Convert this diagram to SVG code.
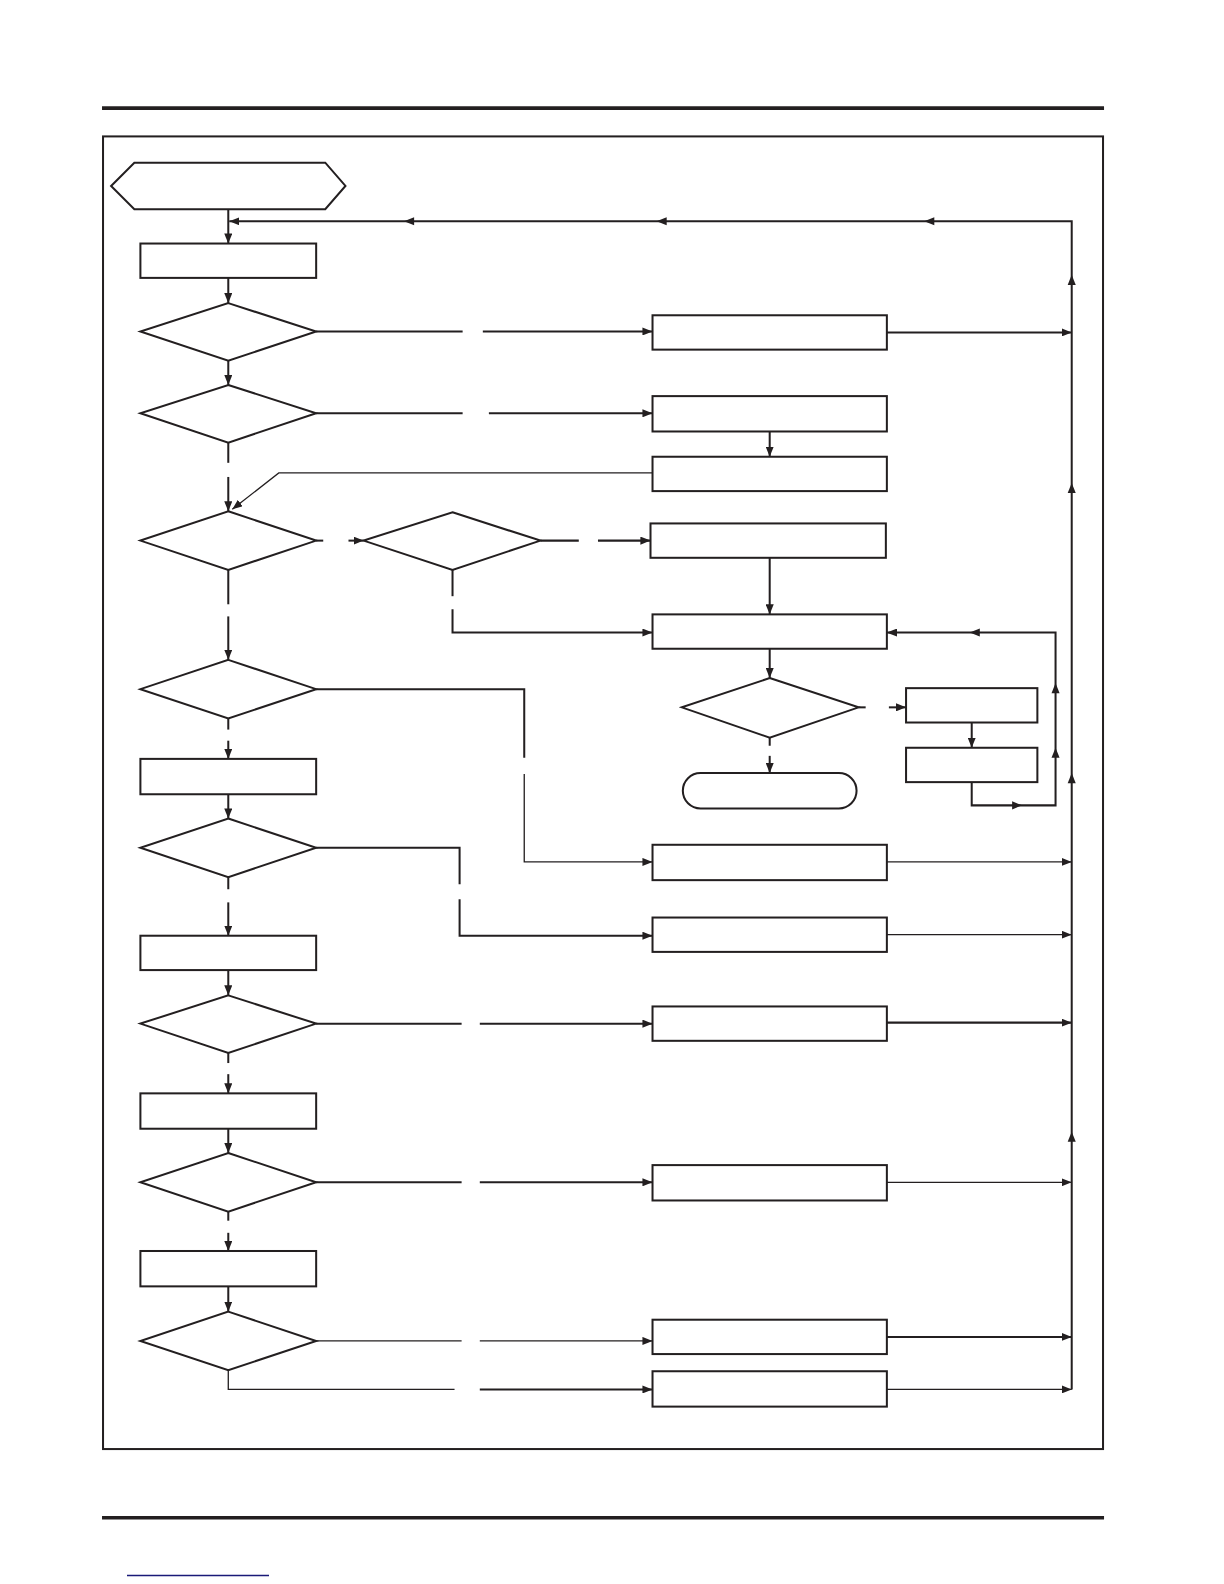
<svg xmlns="http://www.w3.org/2000/svg" width="1224" height="1584" viewBox="0 0 1224 1584">
<style>
.n{fill:#fff;stroke:#231f20;stroke-width:2}
.c{fill:none;stroke:#231f20;stroke-width:2}
.t{fill:none;stroke:#231f20;stroke-width:1.3}
.a{fill:#231f20;stroke:none}
.rule{stroke:#231f20;stroke-width:3.5}
</style>
<defs>
<marker id="ah" viewBox="0 0 10 8" refX="10" refY="4" markerWidth="10" markerHeight="8" markerUnits="userSpaceOnUse" orient="auto"><path d="M0,0 L10,4 L0,8 z" fill="#231f20"/></marker>
</defs>
<rect width="1224" height="1584" fill="#fff"/>
<line x1="127" y1="1575.5" x2="269" y2="1575.5" stroke="#1a1a78" stroke-width="1.6"/>
<g transform="scale(1.0101 1.0105)">
<g id="page">
<line class="rule" x1="101" y1="107" x2="1093" y2="107"/>
<rect x="102" y="135" width="990" height="1299" fill="none" stroke="#231f20" stroke-width="2"/>
<line class="rule" x1="101" y1="1502" x2="1093" y2="1502"/>
</g>
<g id="connectors">
<path class="c" d="M226,207 V241" marker-end="url(#ah)"/>
<path class="c" d="M1061,1375 V219 H227" marker-end="url(#ah)"/>
<polygon class="a" points="400,219 410,215 410,223"/>
<polygon class="a" points="650,219 660,215 660,223"/>
<polygon class="a" points="915,219 925,215 925,223"/>
<polygon class="a" points="1061,272 1057,282 1065,282"/>
<polygon class="a" points="1061,478 1057,488 1065,488"/>
<polygon class="a" points="1061,765 1057,775 1065,775"/>
<polygon class="a" points="1061,1120 1057,1130 1065,1130"/>
<path class="c" d="M226,275 V300" marker-end="url(#ah)"/>
<path class="c" d="M313,328 H458"/>
<path class="c" d="M478,328 H646" marker-end="url(#ah)"/>
<path class="c" d="M878,329 H1061" marker-end="url(#ah)"/>
<path class="c" d="M226,357 V381" marker-end="url(#ah)"/>
<path class="c" d="M313,409 H458"/>
<path class="c" d="M484,409 H646" marker-end="url(#ah)"/>
<path class="c" d="M762,427 V452" marker-end="url(#ah)"/>
<path class="t" d="M646,468 H276 L230,504" marker-end="url(#ah)"/>
<path class="c" d="M226,438 V458"/>
<path class="c" d="M226,472 V506" marker-end="url(#ah)"/>
<path class="c" d="M313,535 H320"/>
<path class="c" d="M345,535 H360" marker-end="url(#ah)"/>
<path class="c" d="M535,535 H573"/>
<path class="c" d="M592,535 H644" marker-end="url(#ah)"/>
<path class="c" d="M762,552 V608" marker-end="url(#ah)"/>
<path class="c" d="M448,564 V590"/>
<path class="c" d="M448,603 V626 H646" marker-end="url(#ah)"/>
<path class="c" d="M226,564 V598"/>
<path class="c" d="M226,610 V653" marker-end="url(#ah)"/>
<path class="c" d="M762,642 V671" marker-end="url(#ah)"/>
<path class="c" d="M850,700 H857"/>
<path class="c" d="M880,700 H897" marker-end="url(#ah)"/>
<path class="c" d="M962,715 V740" marker-end="url(#ah)"/>
<path class="c" d="M962,774 V797 H1045 V626 H878" marker-end="url(#ah)"/>
<polygon class="a" points="1012,797 1002,793 1002,801"/>
<polygon class="a" points="1045,740 1041,750 1049,750"/>
<polygon class="a" points="1045,676 1041,686 1049,686"/>
<polygon class="a" points="960,626 970,622 970,630"/>
<path class="c" d="M762,730 V738"/>
<path class="c" d="M762,748 V765" marker-end="url(#ah)"/>
<path class="c" d="M313,682 H519 V750"/>
<path class="t" d="M519,766 V853 H646" marker-end="url(#ah)"/>
<path class="t" d="M878,853 H1061" marker-end="url(#ah)"/>
<path class="c" d="M226,711 V722"/>
<path class="c" d="M226,733 V751" marker-end="url(#ah)"/>
<path class="c" d="M226,786 V810" marker-end="url(#ah)"/>
<path class="c" d="M313,839 H455 V875"/>
<path class="c" d="M455,890 V926 H646" marker-end="url(#ah)"/>
<path class="t" d="M878,925 H1061" marker-end="url(#ah)"/>
<path class="c" d="M226,868 V880"/>
<path class="c" d="M226,893 V926" marker-end="url(#ah)"/>
<path class="c" d="M226,960 V985" marker-end="url(#ah)"/>
<path class="c" d="M313,1013 H457"/>
<path class="c" d="M475,1013 H646" marker-end="url(#ah)"/>
<path class="c" d="M878,1012 H1061" marker-end="url(#ah)"/>
<path class="c" d="M226,1042 V1052"/>
<path class="c" d="M226,1063 V1082" marker-end="url(#ah)"/>
<path class="c" d="M226,1117 V1141" marker-end="url(#ah)"/>
<path class="c" d="M313,1170 H457"/>
<path class="c" d="M475,1170 H646" marker-end="url(#ah)"/>
<path class="t" d="M878,1170 H1061" marker-end="url(#ah)"/>
<path class="c" d="M226,1199 V1208"/>
<path class="c" d="M226,1220 V1238" marker-end="url(#ah)"/>
<path class="c" d="M226,1273 V1298" marker-end="url(#ah)"/>
<path class="t" d="M313,1327 H457"/>
<path class="t" d="M475,1327 H646" marker-end="url(#ah)"/>
<path class="c" d="M878,1323 H1061" marker-end="url(#ah)"/>
<path class="t" d="M226,1356 V1375 H450"/>
<path class="c" d="M475,1375 H646" marker-end="url(#ah)"/>
<path class="t" d="M878,1375 H1061" marker-end="url(#ah)"/>
</g>
<g id="start"><polygon class="n" points="110,184 133,161 322,161 342,184 322,207 133,207"/></g>
<g id="box1"><rect class="n" x="139" y="241" width="174" height="34"/></g>
<g id="d1"><polygon class="n" points="226,300 313,328 226,357 139,328"/></g>
<g id="d2"><polygon class="n" points="226,381 313,409 226,438 139,409"/></g>
<g id="d3"><polygon class="n" points="226,506 313,535 226,564 139,535"/></g>
<g id="d4"><polygon class="n" points="448,507 535,535 448,564 360,535"/></g>
<g id="d5"><polygon class="n" points="226,653 313,682 226,711 139,682"/></g>
<g id="box2"><rect class="n" x="139" y="751" width="174" height="35"/></g>
<g id="d6"><polygon class="n" points="226,810 313,839 226,868 139,839"/></g>
<g id="box3"><rect class="n" x="139" y="926" width="174" height="34"/></g>
<g id="d7"><polygon class="n" points="226,985 313,1013 226,1042 139,1013"/></g>
<g id="box4"><rect class="n" x="139" y="1082" width="174" height="35"/></g>
<g id="d8"><polygon class="n" points="226,1141 313,1170 226,1199 139,1170"/></g>
<g id="box5"><rect class="n" x="139" y="1238" width="174" height="35"/></g>
<g id="d9"><polygon class="n" points="226,1298 313,1327 226,1356 139,1327"/></g>
<g id="r1"><rect class="n" x="646" y="312" width="232" height="34"/></g>
<g id="r2"><rect class="n" x="646" y="392" width="232" height="35"/></g>
<g id="r3"><rect class="n" x="646" y="452" width="232" height="34"/></g>
<g id="r4"><rect class="n" x="644" y="518" width="233" height="34"/></g>
<g id="r5"><rect class="n" x="646" y="608" width="232" height="34"/></g>
<g id="dr6"><polygon class="n" points="762,671 850,700 762,730 675,700"/></g>
<g id="s1"><rect class="n" x="897" y="681" width="130" height="34"/></g>
<g id="s2"><rect class="n" x="897" y="740" width="130" height="34"/></g>
<g id="end"><rect class="n" x="676" y="765" width="172" height="35" rx="17.5" ry="17.5"/></g>
<g id="r7"><rect class="n" x="646" y="836" width="232" height="35"/></g>
<g id="r8"><rect class="n" x="646" y="908" width="232" height="34"/></g>
<g id="r9"><rect class="n" x="646" y="996" width="232" height="34"/></g>
<g id="r10"><rect class="n" x="646" y="1153" width="232" height="35"/></g>
<g id="r11"><rect class="n" x="646" y="1306" width="232" height="34"/></g>
<g id="r12"><rect class="n" x="646" y="1357" width="232" height="35"/></g>
</g>
</svg>
